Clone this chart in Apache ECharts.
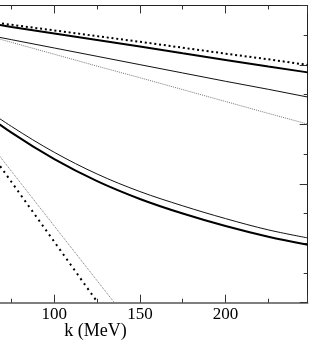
<!DOCTYPE html>
<html>
<head>
<meta charset="utf-8">
<script src="https://cdn.jsdelivr.net/npm/echarts@6/dist/echarts.min.js"></script>
<style>
html,body{margin:0;padding:0;background:#fff;}
#chart{width:310px;height:341px;}
</style>
</head>
<body>
<div id="chart"></div>
<script>
// k values (MeV)
const kValues = [50, 75, 100, 125, 150, 175, 200, 225, 248];
const thickDottedTop = [9.54, 9.35, 9.16, 8.97, 8.78, 8.58, 8.38, 8.19, 8.00];
const thickSolidTop  = [9.51, 9.28, 9.06, 8.84, 8.62, 8.39, 8.17, 7.95, 7.75];
const thinSolidTop   = [9.13, 8.85, 8.57, 8.29, 8.01, 7.73, 7.45, 7.18, 6.92];
const thinDottedTop  = [9.15, 8.76, 8.36, 7.96, 7.57, 7.17, 6.77, 6.37, 6.01];
const thickSolidLow  = [6.76, 5.72, 4.83, 4.09, 3.49, 3.00, 2.58, 2.22, 1.95];
const thinSolidLow   = [6.91, 5.93, 5.06, 4.33, 3.74, 3.26, 2.83, 2.45, 2.18];
const kSteepThick = [50, 75, 100, 125.4];
const thickDottedLow = [6.07, 4.06, 2.05, 0];
const kSteepThin = [50, 75, 100, 125, 135.1];
const thinDottedLow = [6.26, 4.42, 2.58, 0.74, 0];
const xTickLabels = [100, 150, 200];
const xName = 'k (MeV)';

function pairs(xs, ys) { return xs.map((x, i) => [x, ys[i]]); }

const serif = 'Liberation Serif, Times New Roman, serif';
const chart = echarts.init(document.getElementById('chart'), null, {renderer: 'canvas'});

function line(xs, ys, width, color, type, smooth) {
  return {
    type: 'line', data: pairs(xs, ys), showSymbol: false, symbol: 'none',
    smooth: smooth || false, animation: false, silent: true,
    lineStyle: {width: width, color: color, type: type, cap: 'butt'}
  };
}

chart.setOption({
  animation: false,
  grid: {left: -116.9, right: 2.3, top: 5.5, bottom: 38.3, containLabel: false, outerBoundsMode: 'none'},
  xAxis: [{
    type: 'value', position: 'bottom', min: 0, max: 248, interval: 50,
    axisLine: {show: true, onZero: false, lineStyle: {color: '#555', width: 1.5}},
    axisTick: {show: true, inside: true, length: 8, lineStyle: {color: '#333', width: 1}},
    minorTick: {show: true, splitNumber: 2, length: 4, lineStyle: {color: '#333', width: 1}},
    splitLine: {show: false}, minorSplitLine: {show: false},
    axisLabel: {
      show: true, margin: 3, color: '#000', fontFamily: serif, fontSize: 17,
      showMaxLabel: false,
      formatter: v => (xTickLabels.indexOf(v) >= 0 ? String(v) : '')
    },
    name: xName, nameLocation: 'middle', nameGap: 20, nameMoveOverlap: false,
    nameTextStyle: {color: '#000', fontFamily: serif, fontSize: 18}
  }, {
    type: 'value', position: 'top', min: 0, max: 248, interval: 50,
    axisLine: {show: true, onZero: false, lineStyle: {color: '#222', width: 1}},
    axisTick: {show: true, inside: true, length: 8, lineStyle: {color: '#333', width: 1}},
    minorTick: {show: true, splitNumber: 2, length: 4, lineStyle: {color: '#333', width: 1}},
    splitLine: {show: false}, minorSplitLine: {show: false},
    axisLabel: {show: false}
  }],
  yAxis: [{
    type: 'value', position: 'right', min: 0, max: 10, interval: 2,
    axisLine: {show: true, onZero: false, lineStyle: {color: '#222', width: 1}},
    axisTick: {show: true, inside: true, length: 8, lineStyle: {color: '#333', width: 1}},
    minorTick: {show: true, splitNumber: 2, length: 4, lineStyle: {color: '#333', width: 1}},
    splitLine: {show: false}, minorSplitLine: {show: false},
    axisLabel: {show: false}
  }],
  series: [
    line(kValues, thickDottedTop, 2, '#000', [2, 2.8]),
    line(kValues, thickSolidTop, 2, '#000', 'solid'),
    line(kValues, thinSolidTop, 1, '#111', 'solid'),
    line(kValues, thinDottedTop, 1, '#777', [1, 1]),
    line(kValues, thickSolidLow, 2, '#000', 'solid', 0.35),
    line(kValues, thinSolidLow, 1, '#111', 'solid', 0.35),
    line(kSteepThick, thickDottedLow, 2, '#000', [2, 4]),
    line(kSteepThin, thinDottedLow, 1, '#777', [1, 1])
  ]
});
</script>
</body>
</html>
